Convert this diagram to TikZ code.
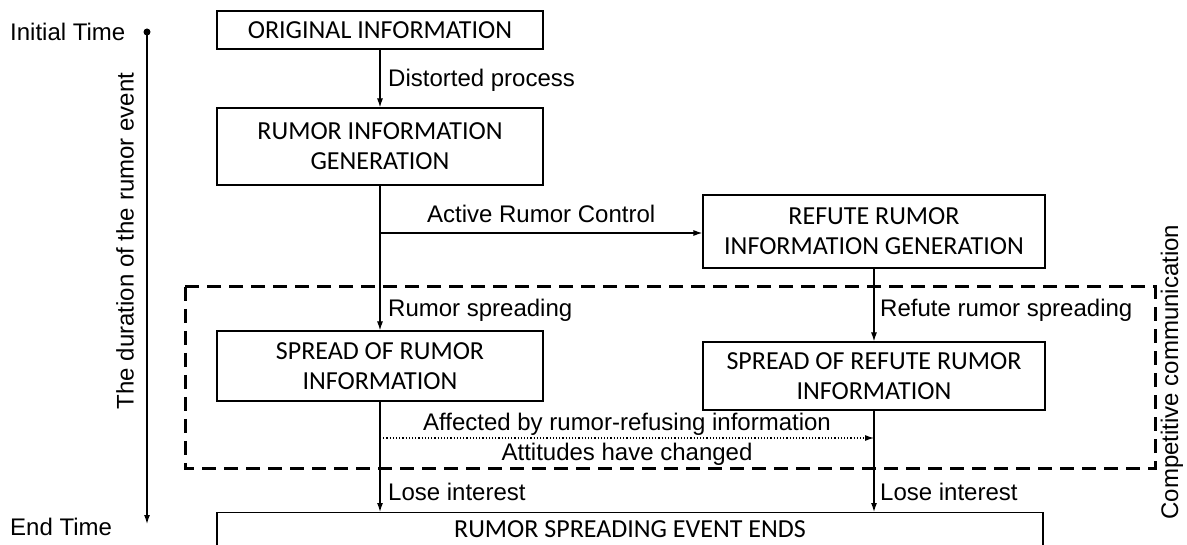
\documentclass[tikz,border=0pt]{standalone}
\usepackage{fontspec}
\setmainfont{Liberation Sans}
\newfontfamily\boxfont{Carlito}
\usetikzlibrary{arrows.meta}

\tikzset{
    infobox/.style={draw, line width=1.2pt, inner sep=0pt, align=center,
        font=\boxfont\fontsize{26}{30}\selectfont},
    lbl/.style={font=\fontsize{24}{28}\selectfont, inner sep=0pt},
    flow/.style={-{Latex[length=9pt,width=6pt]}, line width=1.2pt},
    groupframe/.style={line width=3pt, dash pattern=on 14pt off 8pt}
}

\begin{document}
\begin{tikzpicture}[x=1pt,y=-1pt]
    \clip (0,0) rectangle (1187,545);
    % Time axis
    \node[lbl, anchor=west] (Time-1) at (10,32) {Initial Time};
    \node[lbl, anchor=west] (Time-2) at (10,527) {End Time};
    \coordinate (Axis-1) at (147,32);
    \coordinate (Axis-2) at (147,524);
    \fill (Axis-1) circle (3.5);
    \draw[flow] (Axis-1) -- (Axis-2);
    \node[lbl, rotate=90] (Duration) at (125,241) {The duration of the rumor event};
    % Rumor branch
    \foreach \name/\i/\y/\h in {ORIGINAL INFORMATION/1/30/38,
        RUMOR INFORMATION\\GENERATION/2/146.5/77,
        SPREAD OF RUMOR\\INFORMATION/3/366/70} {
        \node[infobox, minimum width=326pt, minimum height=\h pt] (Rumor-\i) at (380,\y) {\name};
    }
    % Refute branch
    \foreach \name/\i/\y/\h in {REFUTE RUMOR\\INFORMATION GENERATION/1/231.5/73,
        SPREAD OF REFUTE RUMOR\\INFORMATION/2/376/68} {
        \node[infobox, minimum width=342pt, minimum height=\h pt] (Refute-\i) at (874,\y) {\name};
    }
    % End
    \node[infobox, minimum width=826pt, minimum height=34pt, anchor=north] (End-1) at (630,512) {RUMOR SPREADING EVENT ENDS};
    % Competition area
    \draw[groupframe] (185,287) rectangle (1155,468);
    \node[lbl, rotate=90] (Compete) at (1172,372) {Competitive communication};
    % Arrows
    \coordinate (Branch) at (380,233);
    \draw[flow] (Rumor-1.south) -- (Rumor-2.north);
    \draw[flow] (Rumor-2.south) -- (Rumor-3.north);
    \draw[flow] (Branch) -- (Branch -| Refute-1.west)
        node[lbl, midway, above=10pt] (Active) {Active Rumor Control};
    \draw[flow] (Refute-1.south) -- (Refute-2.north);
    \foreach \j in {Rumor-3,Refute-2} {
        \draw[flow] (\j.south) -- (\j.south |- End-1.north);
    }
    \coordinate (Dot-1) at (380,438);
    \coordinate (Dot-2) at (874,438);
    \draw[flow, dotted] (Dot-1) -- (Dot-2)
        node[lbl, midway, above=2pt] (Affect) {Affected by rumor-refusing information}
        node[lbl, midway, below=5pt] (Attitude) {Attitudes have changed};
    % Labels
    \foreach \name/\i/\x/\y in {Distorted process/1/388/80, Rumor spreading/2/388/310,
        Refute rumor spreading/3/880/310, Lose interest/4/388/492, Lose interest/5/880/492} {
        \node[lbl, anchor=west] (Label-\i) at (\x,\y) {\name};
    }
\end{tikzpicture}
\end{document}
